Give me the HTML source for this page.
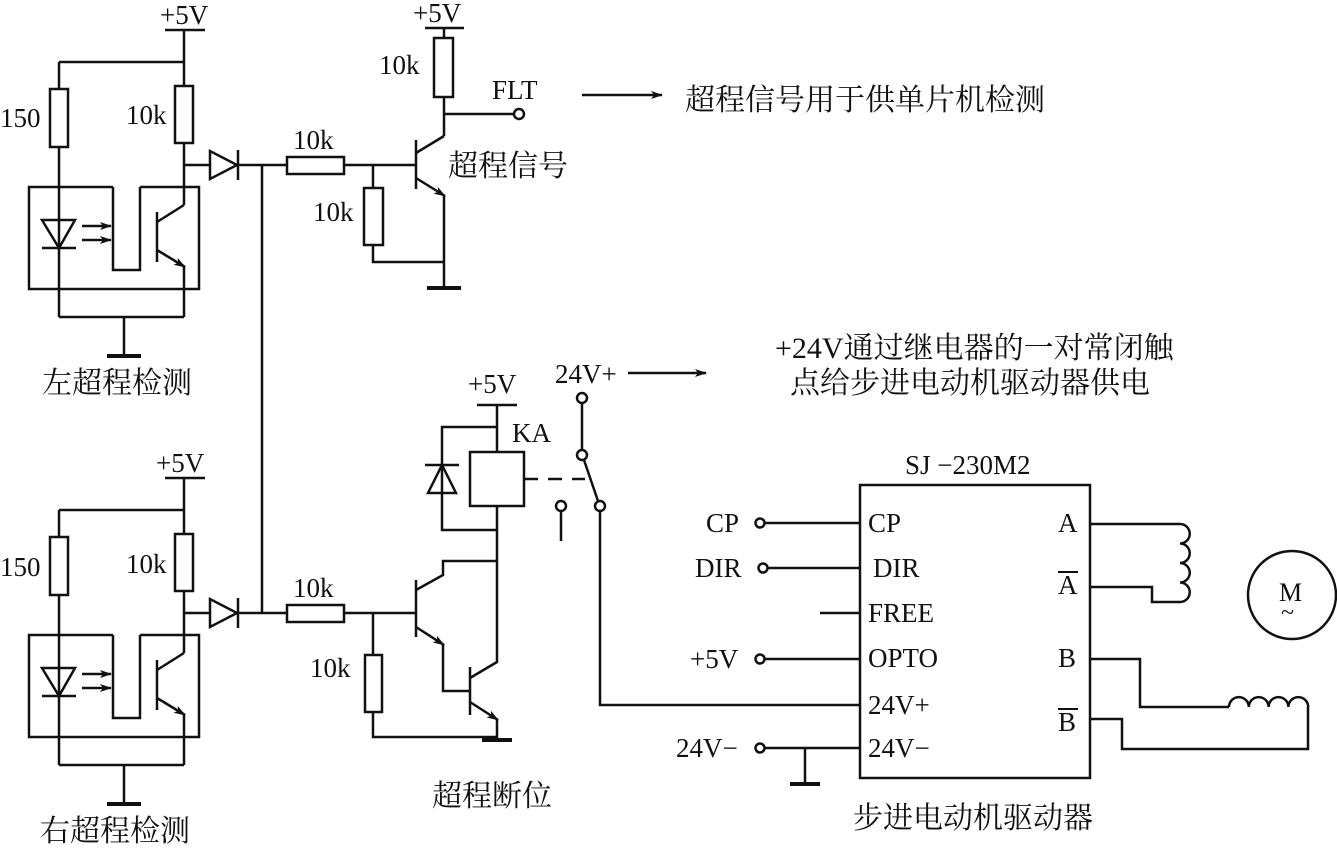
<!DOCTYPE html>
<html><head><meta charset="utf-8"><style>
html,body{margin:0;padding:0;background:#fff;}
svg{display:block;}
text{font-family:"Liberation Serif","Noto Serif CJK SC",serif;font-size:27px;fill:#111;}
.c{font-size:30px;}
</style></head><body>
<svg width="1337" height="853" viewBox="0 0 1337 853" xmlns="http://www.w3.org/2000/svg">
<defs>
<marker id="ar" markerWidth="12" markerHeight="8" refX="11" refY="4" orient="auto" markerUnits="userSpaceOnUse"><path d="M0,0 L12,4 L0,8 L3,4 z" fill="#111"/></marker>
<g id="sensor" stroke="#111" stroke-width="2.5" fill="none">
<line x1="165" y1="30" x2="205" y2="30"/>
<line x1="184" y1="30" x2="184" y2="86"/>
<line x1="59" y1="62" x2="184" y2="62"/>
<line x1="59" y1="62" x2="59" y2="89"/>
<rect x="50" y="89" width="18" height="58"/>
<rect x="175" y="86" width="18" height="57"/>
<line x1="59" y1="147" x2="59" y2="317"/>
<line x1="184" y1="143" x2="184" y2="205"/>
<polyline points="113,187 29,187 29,289 199,289 199,187 140,187"/>
<polyline points="113,187 113,270 140,270 140,187"/>
<polygon points="42,220 75,220 59,248"/>
<line x1="42" y1="248" x2="76" y2="248"/>
<line x1="82" y1="226" x2="111" y2="226" marker-end="url(#ar)"/>
<line x1="82" y1="240" x2="111" y2="240" marker-end="url(#ar)"/>
<line x1="157" y1="212" x2="157" y2="262"/>
<line x1="157" y1="222" x2="184" y2="205"/>
<line x1="157" y1="250" x2="185" y2="267" marker-end="url(#ar)"/>
<line x1="184" y1="266" x2="184" y2="317"/>
<line x1="59" y1="317" x2="184" y2="317"/>
<line x1="124" y1="317" x2="124" y2="355"/>
<line x1="107" y1="356" x2="141" y2="356" stroke-width="4"/>
<line x1="184" y1="165" x2="210" y2="165"/>
<polygon points="210,151 210,179 237,165"/>
<line x1="238" y1="150" x2="238" y2="180"/>
<line x1="238" y1="165" x2="287" y2="165"/>
<rect x="287" y="157" width="57" height="17"/>
</g>
</defs>
<use href="#sensor"/>
<use href="#sensor" transform="translate(0,448)"/>
<g stroke="#111" stroke-width="2.5" fill="none">
<line x1="262" y1="165" x2="262" y2="613"/>
<line x1="344" y1="165" x2="416" y2="165"/>
<line x1="416" y1="140" x2="416" y2="189"/>
<line x1="373" y1="165" x2="373" y2="188"/>
<rect x="364" y="188" width="19" height="57"/>
<polyline points="373,245 373,262 444,262"/>
<line x1="416" y1="153" x2="444" y2="136"/>
<line x1="444" y1="136" x2="444" y2="97"/>
<rect x="434" y="38" width="19" height="59"/>
<line x1="444" y1="28" x2="444" y2="38"/>
<line x1="425" y1="28" x2="464" y2="28"/>
<line x1="444" y1="114" x2="514" y2="114"/>
<circle cx="519" cy="114" r="5" fill="#fff"/>
<line x1="416" y1="178" x2="445" y2="196" marker-end="url(#ar)"/>
<line x1="444" y1="195" x2="444" y2="288"/>
<line x1="427" y1="288" x2="461" y2="288" stroke-width="4"/>
<line x1="582" y1="95" x2="662" y2="95" marker-end="url(#ar)"/>
<line x1="344" y1="613" x2="416" y2="613"/>
<line x1="373" y1="613" x2="373" y2="655"/>
<rect x="365" y="655" width="17" height="57"/>
<polyline points="373,712 373,737 497,737"/>
<line x1="416" y1="580" x2="416" y2="637"/>
<polyline points="416,590 443,575 443,561 497,561"/>
<line x1="416" y1="627" x2="444" y2="645" marker-end="url(#ar)"/>
<polyline points="443,645 443,691 470,691"/>
<line x1="470" y1="667" x2="470" y2="715"/>
<polyline points="470,678 497,662 497,506"/>
<line x1="470" y1="702" x2="498" y2="720" marker-end="url(#ar)"/>
<line x1="497" y1="719" x2="497" y2="740"/>
<line x1="482" y1="740" x2="512" y2="740" stroke-width="4"/>
<line x1="477" y1="405" x2="517" y2="405"/>
<line x1="497" y1="405" x2="497" y2="452"/>
<rect x="470" y="452" width="54" height="54"/>
<polyline points="497,427 442,427 442,530 497,530"/>
<polygon points="442,465 428,493 456,493"/>
<line x1="425" y1="465" x2="459" y2="465"/>
<line x1="524" y1="479" x2="585" y2="479" stroke-dasharray="14,10"/>
<circle cx="582" cy="398" r="5"/>
<line x1="582" y1="403" x2="582" y2="450"/>
<circle cx="582" cy="455" r="5"/>
<line x1="584" y1="460" x2="598" y2="501"/>
<circle cx="600" cy="506" r="5"/>
<circle cx="561" cy="506" r="5"/>
<line x1="561" y1="511" x2="561" y2="541"/>
<polyline points="600,511 600,705 860,705"/>
<line x1="628" y1="373" x2="706" y2="373" marker-end="url(#ar)"/>
<rect x="860" y="485" width="230" height="293"/>
<circle cx="760" cy="523" r="4.5"/><line x1="765" y1="523" x2="860" y2="523"/>
<circle cx="763" cy="568" r="4.5"/><line x1="768" y1="568" x2="860" y2="568"/>
<line x1="820" y1="613" x2="860" y2="613"/>
<circle cx="760" cy="659" r="4.5"/><line x1="765" y1="659" x2="860" y2="659"/>
<circle cx="760" cy="748" r="4.5"/><line x1="765" y1="748" x2="860" y2="748"/>
<line x1="805" y1="748" x2="805" y2="783"/>
<line x1="790" y1="784" x2="820" y2="784" stroke-width="4"/>
<polyline points="1090,524 1180,524"/>
<path d="M1180,524 a9.75,9.75 0 0 1 0,19.5 a9.75,9.75 0 0 1 0,19.5 a9.75,9.75 0 0 1 0,19.5 a9.75,9.75 0 0 1 0,19.5"/>
<polyline points="1090,587 1152,587 1152,602 1180,602"/>
<polyline points="1090,659 1140,659 1140,707 1229,707"/>
<path d="M1229,707 a9.9,9.9 0 0 1 19.8,0 a9.9,9.9 0 0 1 19.8,0 a9.9,9.9 0 0 1 19.8,0 a9.9,9.9 0 0 1 19.8,0"/>
<polyline points="1308,707 1308,749 1122,749 1122,719 1090,719"/>
<circle cx="1292" cy="595" r="44"/>
</g>
<g>
<text x="160" y="24">+5V</text>
<text x="156" y="472">+5V</text>
<text x="0" y="127">150</text>
<text x="0" y="576">150</text>
<text x="126" y="124">10k</text>
<text x="126" y="573">10k</text>
<text x="293" y="149">10k</text>
<text x="293" y="597">10k</text>
<text x="313" y="221">10k</text>
<text x="310" y="677">10k</text>
<text x="379" y="74">10k</text>
<text x="413" y="22">+5V</text>
<text x="492" y="99">FLT</text>
<text x="448" y="176" class="c">超程信号</text>
<text x="685" y="110" class="c">超程信号用于供单片机检测</text>
<text x="42" y="393" class="c">左超程检测</text>
<text x="40" y="841" class="c">右超程检测</text>
<text x="468" y="393">+5V</text>
<text x="555" y="383">24V+</text>
<text x="512" y="442">KA</text>
<text x="775" y="358" class="c">+24V通过继电器的一对常闭触</text>
<text x="790" y="393" class="c">点给步进电动机驱动器供电</text>
<text x="432" y="806" class="c">超程断位</text>
<text x="905" y="474">SJ −230M2</text>
<text x="706" y="532">CP</text>
<text x="695" y="577">DIR</text>
<text x="690" y="668">+5V</text>
<text x="676" y="757">24V−</text>
<text x="868" y="532">CP</text>
<text x="873" y="577">DIR</text>
<text x="868" y="622">FREE</text>
<text x="868" y="667">OPTO</text>
<text x="868" y="714">24V+</text>
<text x="868" y="757">24V−</text>
<text x="1058" y="532">A</text>
<text x="1058" y="594">A</text>
<line x1="1058" y1="572" x2="1078" y2="572" stroke="#111" stroke-width="2"/>
<text x="1058" y="667">B</text>
<text x="1058" y="731">B</text>
<line x1="1058" y1="709" x2="1078" y2="709" stroke="#111" stroke-width="2"/>
<text x="853" y="828" class="c">步进电动机驱动器</text>
<text x="1279" y="601" style="font-size:26px">M</text>
<text x="1281" y="620" style="font-size:24px">~</text>
</g>
</svg>
</body></html>
